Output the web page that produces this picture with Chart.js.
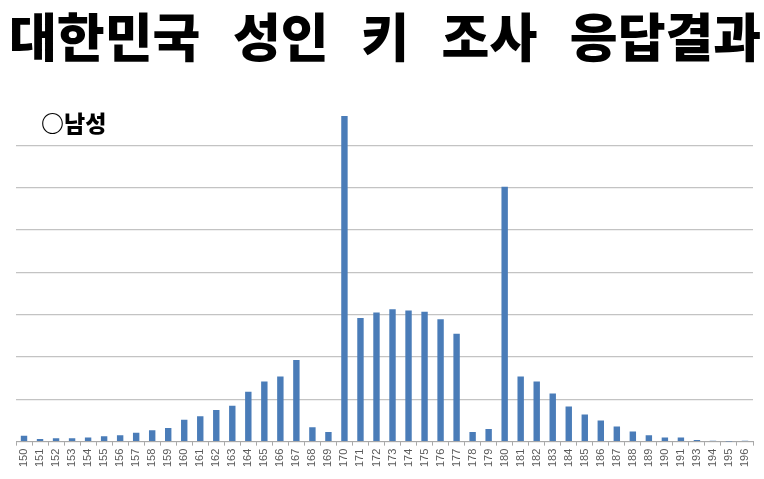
<!DOCTYPE html>
<html lang="ko">
<head>
<meta charset="utf-8">
<script src="https://cdn.jsdelivr.net/npm/chart.js@4/dist/chart.umd.min.js"></script>
<style>
  html, body { margin: 0; padding: 0; background: #fff; }
  #wrap { position: relative; width: 764px; height: 479px; overflow: hidden; }
  #chart { position: absolute; left: 0; top: 0; }
  #title {
    position: absolute; left: 9px; top: 9px; margin: 0;
    font: 900 52px/52px "Noto Sans CJK KR", sans-serif;
    word-spacing: 18px; color: #000; white-space: nowrap;
  }
  #sub {
    position: absolute; left: 41px; top: 109px;
    font: 900 23px/26px "Noto Sans CJK KR", sans-serif; color: #000;
  }
</style>
</head>
<body>
<div id="wrap">
  <canvas id="chart" width="764" height="479"></canvas>
  <h1 id="title">대한민국 성인 키 조사 응답결과</h1>
  <div id="sub">○남성</div>
</div>
<script>
  // heights in cm (192 is not in the survey chart)
  const heights = [
    "150","151","152","153","154","155","156","157","158","159",
    "160","161","162","163","164","165","166","167","168","169",
    "170","171","172","173","174","175","176","177","178","179",
    "180","181","182","183","184","185","186","187","188","189",
    "190","191","193","194","195","196"
  ];
  // share of answers (%)
  const shares = [
    0.28, 0.12, 0.16, 0.16, 0.20, 0.26, 0.30, 0.42, 0.54, 0.64,
    1.04, 1.20, 1.50, 1.70, 2.36, 2.84, 3.08, 3.86, 0.68, 0.46,
    15.38, 5.84, 6.10, 6.26, 6.20, 6.14, 5.78, 5.10, 0.46, 0.60,
    12.04, 3.08, 2.84, 2.28, 1.66, 1.28, 1.00, 0.72, 0.48, 0.30,
    0.20, 0.20, 0.08, 0.04, 0.01, 0.04
  ];
  const Y_MAX = 16;
  const Y_STEP = 2;

  const BAR_BLUE = "#4a7cb8";
  const GRID_GREY = "#c3c3c3";
  const AXIS_GREY = "#a8a8a8";

  new Chart(document.getElementById("chart"), {
    type: "bar",
    data: {
      labels: heights,
      datasets: [{
        data: shares,
        backgroundColor: BAR_BLUE,
        borderWidth: 0,
        barPercentage: 0.8,
        categoryPercentage: 0.5
      }]
    },
    options: {
      responsive: false,
      animation: false,
      layout: { padding: { top: 103, left: 16, right: 11, bottom: 9 } },
      plugins: { legend: { display: false }, tooltip: { enabled: false } },
      scales: {
        x: {
          grid: {
            display: true, drawOnChartArea: false, drawTicks: true,
            tickLength: 4, color: AXIS_GREY, offset: true
          },
          border: { display: true, color: AXIS_GREY, width: 1 },
          ticks: {
            minRotation: 90, maxRotation: 90, autoSkip: false, padding: 3,
            color: "#5a5a5a",
            font: { family: "Liberation Sans", size: 11 }
          }
        },
        y: {
          min: 0, max: Y_MAX,
          ticks: { display: false, stepSize: Y_STEP },
          border: { display: false },
          grid: {
            drawTicks: false,
            lineWidth: 1.2,
            // no line at the very top of the plot
            color: c => (c.tick && c.tick.value >= Y_MAX) ? "rgba(0,0,0,0)" : GRID_GREY
          }
        }
      }
    }
  });
</script>
</body>
</html>
